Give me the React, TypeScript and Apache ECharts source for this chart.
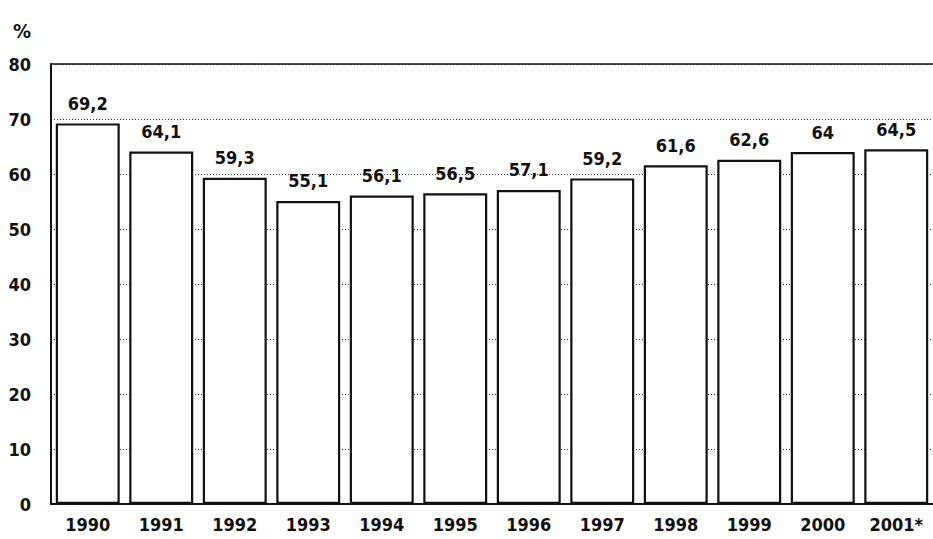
import React, { useEffect, useRef } from "react";
import * as echarts from "echarts";

const categories = ["1990", "1991", "1992", "1993", "1994", "1995", "1996", "1997", "1998", "1999", "2000", "2001*"];
const values = [69.2, 64.1, 59.3, 55.1, 56.1, 56.5, 57.1, 59.2, 61.6, 62.6, 64, 64.5];
const yTicks = [0, 10, 20, 30, 40, 50, 60, 70, 80];

const FONT = "'Liberation Sans Narrow', 'DejaVu Sans Condensed', 'Arial Narrow', sans-serif";

export default function App() {
  const ref = useRef<HTMLDivElement>(null);
  useEffect(() => {
    if (!ref.current) return;
    const chart = echarts.init(ref.current, undefined, { renderer: "svg" });
    chart.setOption({
      animation: false,
      backgroundColor: "#ffffff",
      graphic: [
        {
          type: "text",
          left: 13,
          top: 21,
          style: { text: "%", fontFamily: FONT, fontSize: 20, fontWeight: "bold", fill: "#111" },
        },
      ],
      grid: { left: 51, right: -3, top: 64, bottom: 35 },
      xAxis: [
        {
          type: "category",
          data: categories,
          axisLine: { show: true, lineStyle: { color: "#111", width: 2 } },
          axisTick: { show: false },
          axisLabel: { fontFamily: FONT, fontSize: 18, fontWeight: "bold", color: "#111", margin: 11 },
        },
        {
          type: "category",
          data: categories,
          position: "top",
          axisLine: { show: true, lineStyle: { color: "#111", width: 1.5 } },
          axisTick: { show: false },
          axisLabel: { show: false },
        },
      ],
      yAxis: {
        type: "value",
        min: 0,
        max: 80,
        interval: 10,
        axisLine: { show: true, lineStyle: { color: "#111", width: 2 } },
        axisTick: { show: false },
        axisLabel: {
          fontFamily: FONT,
          fontSize: 18,
          fontWeight: "bold",
          color: "#111",
          margin: 20,
          formatter: (v: number) => (yTicks.includes(v) ? String(v) : ""),
        },
        splitLine: { show: true, lineStyle: { color: "#333", type: [1, 2], width: 1 } },
      },
      series: [
        {
          type: "bar",
          data: values,
          barCategoryGap: "13%",
          itemStyle: { color: "#ffffff", borderColor: "#111", borderWidth: 2.2 },
          label: {
            show: true,
            position: "top",
            distance: 11,
            fontFamily: FONT,
            fontSize: 18,
            fontWeight: "bold",
            color: "#111",
            formatter: (p: any) => String(p.value).replace(".", ","),
          },
        },
      ],
    });
    return () => chart.dispose();
  }, []);
  return <div ref={ref} style={{ width: 933, height: 539, position: "absolute", left: 0, top: 0 }} />;
}
